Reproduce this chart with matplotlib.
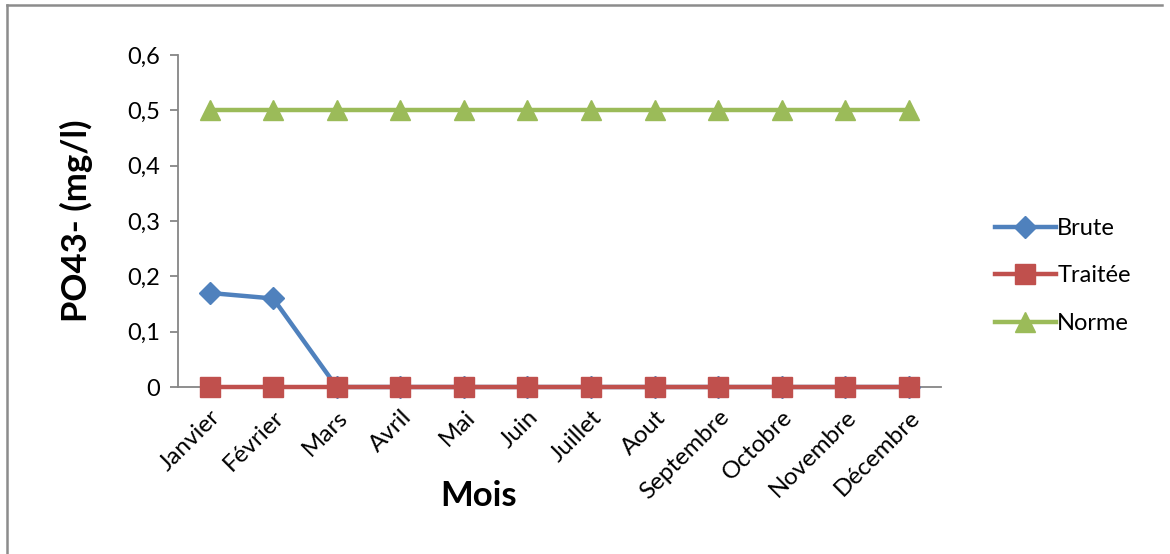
import matplotlib.pyplot as plt
from matplotlib.lines import Line2D

# Données mensuelles PO43- (mg/l)
mois = ['Janvier', 'Février', 'Mars', 'Avril', 'Mai', 'Juin', 'Juillet',
        'Aout', 'Septembre', 'Octobre', 'Novembre', 'Décembre']
brute = [0.17, 0.16, 0, 0, 0, 0, 0, 0, 0, 0, 0, 0]
traitee = [0, 0, 0, 0, 0, 0, 0, 0, 0, 0, 0, 0]
norme = [0.5, 0.5, 0.5, 0.5, 0.5, 0.5, 0.5, 0.5, 0.5, 0.5, 0.5, 0.5]
yticks = [0, 0.1, 0.2, 0.3, 0.4, 0.5, 0.6]

plt.rcParams['font.family'] = ['Lato', 'DejaVu Sans']

fig = plt.figure(figsize=(11.7, 5.54), dpi=100)
ax = fig.add_axes([0.152, 0.3014, 0.652, 0.5993])

x = range(len(mois))
ax.plot(x, brute, color='#4F81BD', lw=3.2, marker='D', ms=11.5, label='Brute',
        zorder=3, clip_on=False)
ax.plot(x, traitee, color='#C0504D', lw=3.2, marker='s', ms=14, label='Traitée',
        zorder=4, clip_on=False)
ax.plot(x, norme, color='#9BBB59', lw=3.2, marker='^', ms=14, label='Norme',
        zorder=3, clip_on=False)

ax.set_xlim(-0.5, len(mois) - 0.5)
ax.set_ylim(0, 0.6)
ax.set_yticks(yticks)
ax.set_yticklabels([f'{v:g}'.replace('.', ',') for v in yticks], fontsize=17)
ax.set_xticks(list(x))
ax.set_xticklabels(mois, rotation=45, ha='right', rotation_mode='anchor', fontsize=17.5)
ax.tick_params(axis='x', length=0, pad=14)
ax.tick_params(axis='y', length=6, width=1.3, color='#868686', pad=7)

for side in ['top', 'right']:
    ax.spines[side].set_visible(False)
for side in ['left', 'bottom']:
    ax.spines[side].set_color('#868686')
    ax.spines[side].set_linewidth(1.3)

ax.set_ylabel('PO43- (mg/l)', fontsize=25, fontweight='bold', labelpad=24)
fig.text(0.409, 0.105, 'Mois', fontsize=25, fontweight='bold', ha='center', va='center')

leg = fig.legend(loc='center left', bbox_to_anchor=(0.842, 0.502), frameon=False,
                 fontsize=17, handlelength=2.6, handletextpad=0.05, labelspacing=1.12,
                 borderaxespad=0)

# cadre du graphique (haut et gauche)
fig.add_artist(Line2D([0.006, 0.006], [0, 0.991], color='#8c8c8c', lw=1.8))
fig.add_artist(Line2D([0.006, 0.993], [0.991, 0.991], color='#8c8c8c', lw=1.8))

fig.savefig('out.png', dpi=100)
